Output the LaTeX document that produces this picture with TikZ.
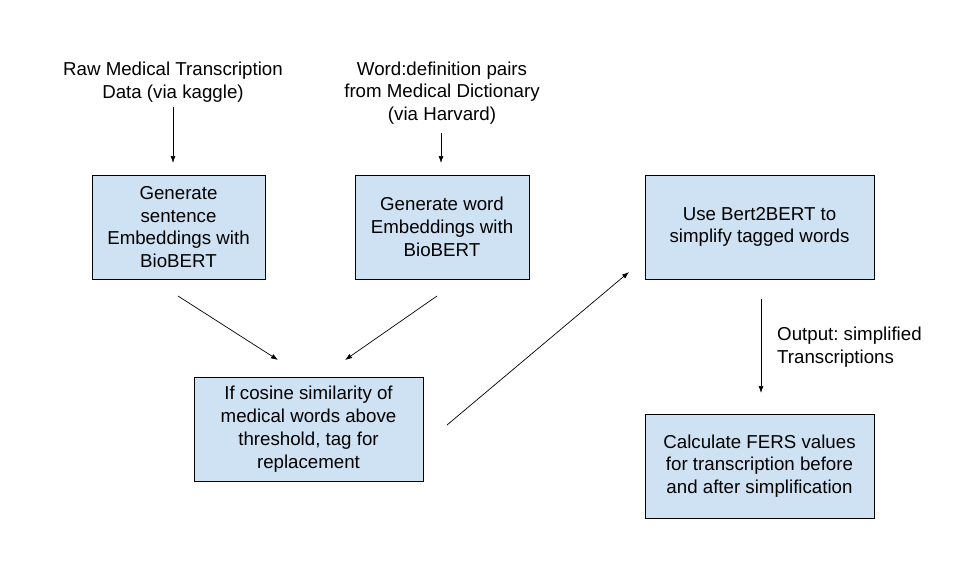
\documentclass[tikz,border=0pt]{standalone}
\usepackage{fontspec}
\setmainfont{Liberation Sans}
\usetikzlibrary{arrows.meta}
\frenchspacing
\definecolor{boxblue}{HTML}{CFE2F3}
\tikzset{
  stepbox/.style={draw=black, line width=0.9pt, fill=boxblue, align=center, inner sep=0pt},
  plain/.style={align=center, inner sep=0pt},
  conn/.style={draw=black, line width=0.7pt, -{Latex[length=7pt,width=5pt]}},
}
\begin{document}
\begin{tikzpicture}[x=1pt,y=-1pt, font=\fontsize{18.7}{22.8}\selectfont]
\useasboundingbox[fill=white] (0,0) rectangle (960,582);
% text sources
\node[plain] (t1) at (173,82) {Raw Medical Transcription\\Data (via kaggle)};
\node[plain] (t2) at (442,93) {Word:definition pairs\\from Medical Dictionary\\(via Harvard)};
% boxes
\node[stepbox, minimum width=173pt, minimum height=104pt] (b1) at (178.5,227) {Generate\\sentence\\Embeddings with\\BioBERT};
\node[stepbox, minimum width=174pt, minimum height=104pt] (b2) at (442,227) {Generate word\\Embeddings with\\BioBERT};
\node[stepbox, minimum width=229pt, minimum height=104pt] (b3) at (759.5,227) {Use Bert2BERT to\\simplify tagged words};
\node[stepbox, minimum width=229pt, minimum height=104pt] (b4) at (308.5,429) {If cosine similarity of\\medical words above\\threshold, tag for\\replacement};
\node[stepbox, minimum width=229pt, minimum height=104pt] (b5) at (759.5,466) {Calculate FERS values\\for transcription before\\and after simplification};
% label
\node[align=left, inner sep=0pt, anchor=west] (lbl) at (777,347) {\frenchspacing Output: simplified\\Transcriptions};
% connector end points
\coordinate (s1) at (173,107); \coordinate (e1) at (173,163);
\coordinate (s2) at (441,133); \coordinate (e2) at (441,163);
\coordinate (s3) at (178,296); \coordinate (e3) at (278,360);
\coordinate (s4) at (437,296); \coordinate (e4) at (345,360);
\coordinate (s5) at (447,425); \coordinate (e5) at (629,272);
\coordinate (s6) at (761,299); \coordinate (e6) at (761,393);
\draw[conn] (s1) -- (e1);
\draw[conn] (s2) -- (e2);
\draw[conn] (s3) -- (e3);
\draw[conn] (s4) -- (e4);
\draw[conn] (s5) -- (e5);
\draw[conn] (s6) -- (e6);
\end{tikzpicture}
\end{document}
